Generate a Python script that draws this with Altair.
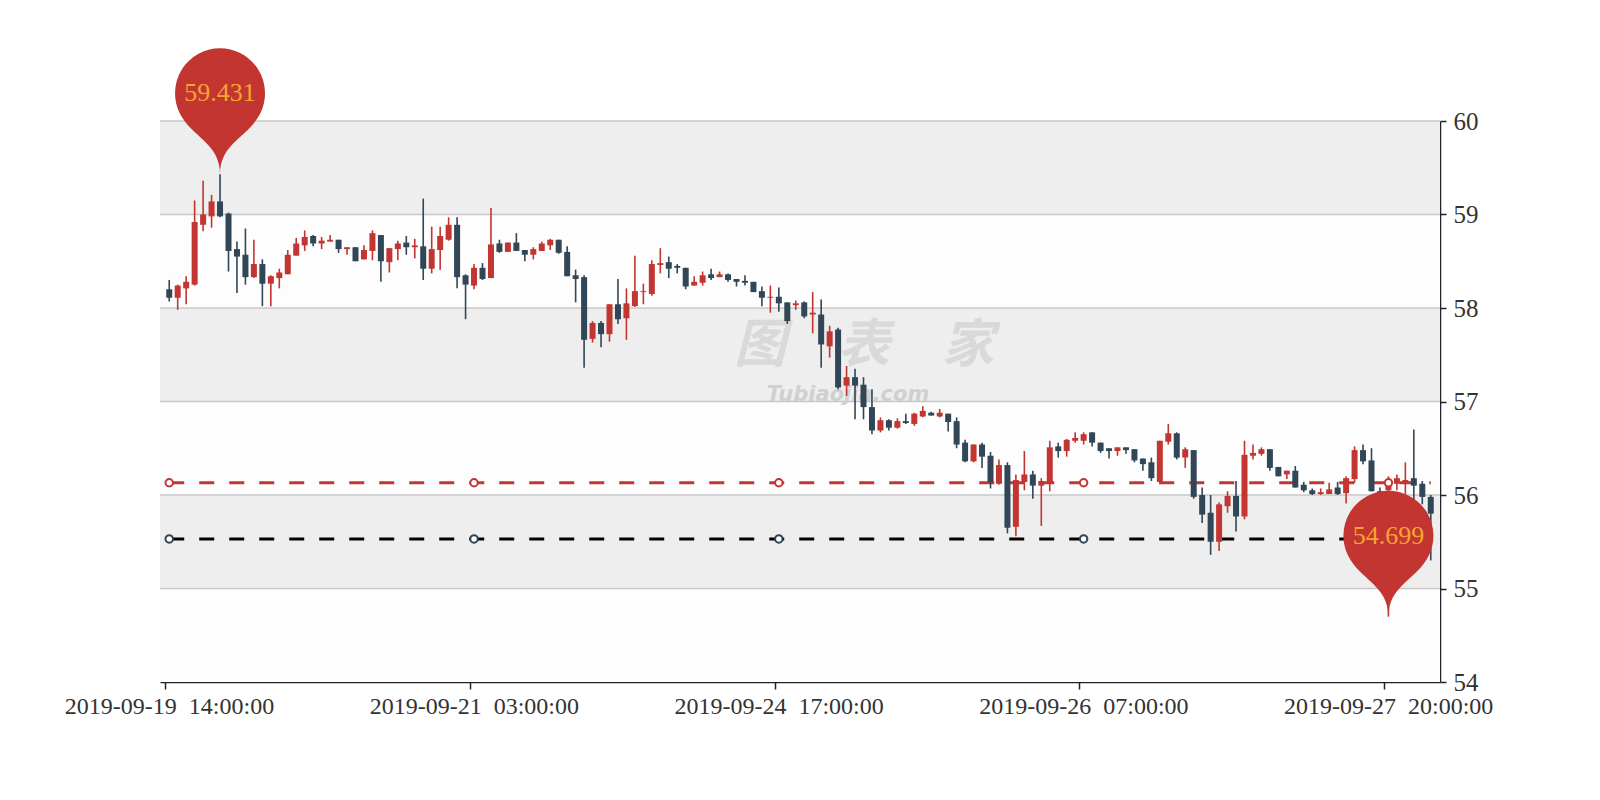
import math
import altair as alt
import pandas as pd

# ---------------- data ----------------
opens = [58.20, 58.11, 58.21, 58.25, 58.89, 58.98, 59.14, 59.01, 58.63, 58.57,
         58.33, 58.47, 58.26, 58.32, 58.36, 58.56, 58.67, 58.77, 58.69, 58.71,
         58.73, 58.63, 58.65, 58.52, 58.61, 58.78, 58.49, 58.63, 58.70, 58.65,
         58.66, 58.42, 58.62, 58.73, 58.89, 58.35, 58.24, 58.43, 58.32, 58.69,
         58.60, 58.70, 58.62, 58.57, 58.61, 58.67, 58.73, 58.60, 58.35, 58.33,
         57.67, 57.84, 57.72, 58.04, 57.89, 58.02, 58.17, 58.15, 58.46, 58.49,
         58.45, 58.43, 58.24, 58.27, 58.36, 58.33, 58.36, 58.31, 58.29, 58.28,
         58.18, 58.11, 58.12, 58.06, 58.03, 58.06, 57.93, 57.93, 57.59, 57.77,
         57.17, 57.26, 57.18, 56.94, 56.69, 56.80, 56.72, 56.79, 56.76, 56.84,
         56.88, 56.84, 56.87, 56.79, 56.56, 56.36, 56.54, 56.42, 56.12, 56.32,
         55.66, 56.14, 56.22, 56.10, 56.13, 56.52, 56.47, 56.58, 56.58, 56.67,
         56.56, 56.50, 56.47, 56.51, 56.49, 56.39, 56.35, 56.14, 56.57, 56.66,
         56.40, 56.48, 56.00, 55.81, 55.50, 55.88, 55.99, 55.77, 56.42, 56.44,
         56.49, 56.30, 56.22, 56.26, 56.11, 56.05, 56.01, 56.01, 56.08, 56.02,
         56.17, 56.48, 56.37, 56.04, 56.05, 56.12, 56.12, 56.18, 56.12, 55.98]
closes = [58.11, 58.24, 58.28, 58.92, 59.00, 59.14, 58.98, 58.61, 58.55, 58.33,
          58.47, 58.26, 58.34, 58.38, 58.57, 58.69, 58.76, 58.69, 58.72, 58.73,
          58.63, 58.65, 58.50, 58.62, 58.80, 58.50, 58.64, 58.69, 58.65, 58.67,
          58.42, 58.63, 58.77, 58.89, 58.33, 58.25, 58.43, 58.31, 58.68, 58.60,
          58.70, 58.61, 58.57, 58.63, 58.69, 58.73, 58.59, 58.34, 58.31, 57.66,
          57.84, 57.72, 58.04, 57.88, 58.05, 58.18, 58.18, 58.47, 58.48, 58.42,
          58.43, 58.23, 58.28, 58.35, 58.32, 58.36, 58.30, 58.28, 58.27, 58.17,
          58.11, 58.12, 58.05, 57.86, 58.05, 57.91, 57.95, 57.61, 57.75, 57.15,
          57.26, 57.17, 56.94, 56.69, 56.80, 56.72, 56.79, 56.77, 56.87, 56.90,
          56.85, 56.88, 56.78, 56.54, 56.36, 56.54, 56.41, 56.14, 56.32, 55.65,
          56.16, 56.22, 56.10, 56.15, 56.51, 56.47, 56.59, 56.61, 56.65, 56.56,
          56.47, 56.47, 56.51, 56.48, 56.37, 56.33, 56.18, 56.58, 56.66, 56.40,
          56.49, 55.98, 55.79, 55.50, 55.90, 55.99, 55.77, 56.43, 56.45, 56.49,
          56.29, 56.20, 56.26, 56.08, 56.05, 56.01, 56.03, 56.06, 56.01, 56.18,
          56.48, 56.36, 56.04, 55.95, 56.15, 56.18, 56.16, 56.10, 55.98, 55.80]
highs = [58.30, 58.25, 58.34, 59.15, 59.36, 59.21, 59.431, 59.02, 58.71, 58.85,
         58.73, 58.52, 58.35, 58.42, 58.62, 58.75, 58.83, 58.78, 58.76, 58.78,
         58.73, 58.65, 58.65, 58.67, 58.83, 58.78, 58.64, 58.72, 58.77, 58.74,
         59.17, 58.87, 58.87, 58.97, 58.97, 58.36, 58.47, 58.48, 59.07, 58.73,
         58.70, 58.80, 58.62, 58.65, 58.71, 58.74, 58.73, 58.66, 58.41, 58.35,
         57.86, 57.86, 58.04, 58.31, 58.21, 58.56, 58.26, 58.51, 58.64, 58.55,
         58.47, 58.43, 58.34, 58.39, 58.42, 58.39, 58.37, 58.31, 58.35, 58.28,
         58.23, 58.24, 58.22, 58.06, 58.08, 58.07, 58.17, 58.09, 57.81, 57.79,
         57.38, 57.35, 57.26, 57.13, 56.83, 56.81, 56.82, 56.87, 56.88, 56.95,
         56.89, 56.92, 56.87, 56.83, 56.59, 56.54, 56.56, 56.46, 56.38, 56.35,
         56.22, 56.47, 56.26, 56.18, 56.58, 56.56, 56.60, 56.67, 56.67, 56.67,
         56.56, 56.50, 56.51, 56.51, 56.49, 56.39, 56.40, 56.58, 56.76, 56.67,
         56.51, 56.48, 56.08, 56.00, 55.92, 56.04, 56.15, 56.58, 56.54, 56.51,
         56.49, 56.30, 56.26, 56.31, 56.14, 56.07, 56.07, 56.13, 56.14, 56.20,
         56.52, 56.54, 56.50, 56.08, 56.20, 56.22, 56.35, 56.70, 56.15, 56.00]
lows = [58.07, 57.98, 58.04, 58.24, 58.82, 58.86, 58.97, 58.39, 58.16, 58.25,
        58.32, 58.02, 58.02, 58.21, 58.36, 58.56, 58.61, 58.66, 58.63, 58.71,
        58.59, 58.57, 58.50, 58.52, 58.51, 58.28, 58.38, 58.51, 58.57, 58.53,
        58.30, 58.37, 58.41, 58.72, 58.21, 57.88, 58.20, 58.30, 58.32, 58.59,
        58.60, 58.61, 58.50, 58.52, 58.61, 58.62, 58.58, 58.34, 58.06, 57.36,
        57.63, 57.58, 57.64, 57.83, 57.66, 58.01, 58.04, 58.13, 58.37, 58.32,
        58.37, 58.20, 58.24, 58.24, 58.30, 58.33, 58.28, 58.23, 58.24, 58.17,
        58.02, 57.95, 57.96, 57.83, 57.98, 57.89, 57.73, 57.36, 57.47, 57.13,
        57.06, 56.81, 56.81, 56.65, 56.67, 56.69, 56.71, 56.76, 56.74, 56.83,
        56.85, 56.83, 56.68, 56.50, 56.35, 56.35, 56.29, 56.07, 56.11, 55.59,
        55.56, 56.05, 55.96, 55.67, 56.04, 56.40, 56.41, 56.56, 56.54, 56.52,
        56.45, 56.39, 56.42, 56.44, 56.35, 56.26, 56.15, 56.12, 56.54, 56.38,
        56.29, 55.96, 55.70, 55.36, 55.40, 55.81, 55.61, 55.74, 56.38, 56.42,
        56.26, 56.20, 56.17, 56.08, 56.03, 56.00, 56.00, 56.01, 56.00, 55.91,
        56.13, 56.33, 56.04, 55.85, 54.699, 56.05, 56.00, 55.95, 55.90, 55.30]
idx = list(range(len(opens)))

SP = "\u00a0\u00a0"
tick_idx = [0, 36, 72, 108, 144]
tick_labels = ["2019-09-19" + SP + "14:00:00", "2019-09-21" + SP + "03:00:00",
               "2019-09-24" + SP + "17:00:00", "2019-09-26" + SP + "07:00:00",
               "2019-09-27" + SP + "20:00:00"]
y_ticks = [54, 55, 56, 57, 58, 59, 60]
band_colors = ["#fdfdfd", "#eeeeee"]
ref_levels = [56.131, 55.530]
ref_colors = ["#c23531", "#000000"]
ref_symbol_colors = ["#c23531", "#2f4554"]

UP = "#c23531"
DOWN = "#314656"
W, H = 1280, 561
FONT = "Liberation Serif"

# ---------------- frames ----------------
df = pd.DataFrame({"idx": idx, "open": opens, "close": closes, "high": highs, "low": lows})

bands = pd.DataFrame({
    "lo": y_ticks[:-1], "hi": y_ticks[1:],
    "fill": [band_colors[i % 2] for i in range(len(y_ticks) - 1)],
})
grid = pd.DataFrame({"v": y_ticks[1:]})

refs = pd.DataFrame({"start": [idx[0]] * 2, "end": [idx[-1]] * 2,
                     "level": ref_levels, "color": ref_colors})
ref_pts = pd.DataFrame([
    {"idx": t, "level": lv, "stroke": sc}
    for lv, sc in zip(ref_levels, ref_symbol_colors) for t in tick_idx
])

imax = max(idx, key=lambda i: highs[i])
imin = min(idx, key=lambda i: lows[i])
pins = pd.DataFrame({"idx": [imax, imin], "val": [highs[imax], lows[imin]],
                     "label": [f"{highs[imax]:.3f}", f"{lows[imin]:.3f}"]})

# ---------------- pin symbol path (tip at origin, radius 1) ----------------
h = 3.245
dy = 1 / (h - 1)
cy = -h + 1 + dy
a = math.asin(dy)
dx = math.cos(a)
tx, ty = math.sin(a), math.cos(a)
t0, t1 = math.pi - a, 2 * math.pi + a
n = 4
k = 4 / 3 * math.tan((t1 - t0) / n / 4)
def P(t):
    return (math.cos(t), cy + math.sin(t))
def f(p):
    return f"{p[0]:.4f} {p[1]:.4f}"
segs = [f"M {f(P(t0))}"]
for j in range(n):
    ta = t0 + (t1 - t0) * j / n
    tb = t0 + (t1 - t0) * (j + 1) / n
    pa, pb = P(ta), P(tb)
    c1 = (pa[0] - k * math.sin(ta), pa[1] + k * math.cos(ta))
    c2 = (pb[0] + k * math.sin(tb), pb[1] - k * math.cos(tb))
    segs.append(f"C {f(c1)} {f(c2)} {f(pb)}")
segs.append(f"C {f((dx - tx * 0.6, cy + dy + ty * 0.6))} {f((0, -0.7))} {f((0, 0))}")
segs.append(f"C {f((0, -0.7))} {f((-dx + tx * 0.6, cy + dy + ty * 0.6))} {f((-dx, cy + dy))} Z")
PIN = " ".join(segs)
R = 45

# ---------------- scales / axes ----------------
xs = alt.Scale(domain=[-0.5, len(idx) - 0.5], nice=False, zero=False)
ys = alt.Scale(domain=[y_ticks[0], y_ticks[-1]], nice=False, zero=False)

expr = ""
for t, lab in zip(tick_idx, tick_labels):
    expr += f"datum.value < {t} ? '{lab}' : "
expr += "''"

x_axis = alt.Axis(values=[t - 0.5 for t in tick_idx], labelExpr=expr, labelOffset=4,
                  title=None, grid=False, domainColor="#222", domainWidth=1.5,
                  tickColor="#222", tickWidth=1.5, tickSize=7, labelFont=FONT,
                  labelFontSize=24, labelColor="#333", labelPadding=5,
                  labelFlush=False, labelOverlap=False, labelLimit=500)
y_axis = alt.Axis(orient="right", values=y_ticks, title=None, grid=False,
                  domainColor="#222", domainWidth=1.5, tickColor="#222", tickWidth=1.5,
                  tickSize=6, labelFont=FONT, labelFontSize=25, labelColor="#333",
                  labelPadding=7)

X = lambda fld: alt.X(fld, scale=xs, axis=x_axis)
Y = lambda fld: alt.Y(fld, scale=ys, axis=y_axis)

color_cond = alt.condition("datum.close >= datum.open", alt.value(UP), alt.value(DOWN))

band_layer = alt.Chart(bands).mark_rect().encode(
    x=alt.value(0), x2=alt.value(W),
    y=Y("lo:Q"), y2="hi:Q",
    fill=alt.Fill("fill:N", scale=None))

grid_layer = alt.Chart(grid).mark_rule(color="#c8c8c8", strokeWidth=1.5).encode(
    x=alt.value(0), x2=alt.value(W), y=Y("v:Q"))

wm1 = alt.Chart(pd.DataFrame({"t": ["图\u2003表\u2003家"]})).mark_text(
    font="Noto Sans CJK SC", fontSize=52, fontWeight="bold", fontStyle="italic",
    color="#d9d9d9", align="center", baseline="middle").encode(
    x=alt.value(704), y=alt.value(225), text="t:N")
wm2 = alt.Chart(pd.DataFrame({"t": ["Tubiaojia.com"]})).mark_text(
    font="DejaVu Sans", fontSize=21, fontWeight="bold", fontStyle="italic",
    color="#d0d0d0", align="center", baseline="middle").encode(
    x=alt.value(688), y=alt.value(274), text="t:N")

ref_layer = alt.Chart(refs).mark_rule(strokeDash=[15, 15], strokeWidth=3).encode(
    x=X("start:Q"), x2="end:Q",
    y=Y("level:Q"),
    color=alt.Color("color:N", scale=None))

wick_layer = alt.Chart(df).mark_rule(strokeWidth=1.6).encode(
    x=X("idx:Q"), y=Y("low:Q"), y2="high:Q", color=color_cond)

body_layer = alt.Chart(df).mark_bar(size=6).encode(
    x=X("idx:Q"), y=Y("open:Q"), y2="close:Q", color=color_cond)

ref_pt_layer = alt.Chart(ref_pts).mark_point(
    shape="circle", filled=True, fill="white", size=55, strokeWidth=2, opacity=1).encode(
    x=X("idx:Q"), y=Y("level:Q"),
    stroke=alt.Stroke("stroke:N", scale=None))

pin_layer = alt.Chart(pins).mark_point(
    shape=PIN, size=(2 * R) ** 2, filled=True, fill=UP, opacity=1, strokeWidth=0).encode(
    x=X("idx:Q"), y=Y("val:Q"))

pin_text = alt.Chart(pins).mark_text(
    dy=cy * R, font=FONT, fontSize=26, color="#f7a530", align="center",
    baseline="middle").encode(
    x=X("idx:Q"), y=Y("val:Q"), text="label:N")

chart = alt.layer(
    band_layer, grid_layer, wm1, wm2, ref_layer, wick_layer, body_layer,
    ref_pt_layer, pin_layer, pin_text
).properties(
    width=W, height=H,
    autosize=alt.AutoSizeParams(type="none"),
    padding={"left": 152, "top": 113, "right": 140, "bottom": 95},
    background="white",
).configure_view(strokeWidth=0)

chart.save("out.html", embed_options={"renderer": "svg", "actions": False})
